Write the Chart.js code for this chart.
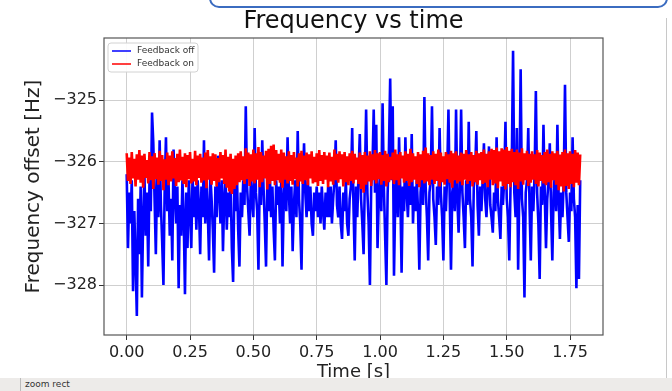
<!DOCTYPE html>
<html><head><meta charset="utf-8">
<script src="https://cdn.jsdelivr.net/npm/chart.js@4/dist/chart.umd.min.js"></script>
<style>
html,body{margin:0;padding:0;background:#fff;overflow:hidden;}
#wrap{position:relative;width:672px;height:391px;overflow:hidden;}
#c{position:absolute;left:0;top:0;}
#topbox{position:absolute;left:209px;top:-22px;width:455px;height:26px;border:2px solid #3b6cc0;border-radius:10px;}
#vline{position:absolute;left:666px;top:18px;width:1px;height:360px;background:#c8c8c8;}
#status{position:absolute;left:0;top:378px;width:672px;height:13px;background:#edebe9;}
#status span{position:absolute;left:25px;top:0px;font:9px "DejaVu Sans";color:#333;line-height:13px;}
#status i{position:absolute;left:20px;top:0;width:1px;height:13px;background:#bbb;}
</style></head>
<body>
<div id="wrap">
<canvas id="c" width="672" height="391"></canvas>
<div id="topbox"></div>
<div id="vline"></div>
<div id="status"><i></i><span>zoom rect</span></div>
</div>
<script>
// sample spacing of the recorded traces (s)
const sampleDt = 0.005;

// Feedback off (Hz)
const feedbackOff = [
-326.2,-327.4,-326.5,-327.0,-326.3,-328.1,-326.8,-327.6,-328.5,-326.6,
-327.5,-326.4,-328.2,-326.9,-326.2,-327.2,-326.5,-327.7,-326.3,-326.8,
-325.2,-325.7,-326.6,-327.5,-326.2,-326.9,-325.65,-326.7,-327.3,-328.0,
-326.4,-325.6,-326.8,-326.3,-327.2,-326.6,-327.6,-325.8,-326.5,-327.0,
-326.4,-328.05,-326.7,-327.2,-326.3,-326.9,-328.15,-326.5,-327.4,-326.3,
-326.8,-327.4,-326.2,-326.9,-326.4,-327.1,-326.3,-326.7,-327.5,-326.4,
-326.9,-325.65,-327.0,-326.3,-326.8,-327.6,-326.2,-326.6,-327.1,-327.8,
-326.4,-326.9,-325.9,-326.5,-327.0,-326.3,-327.45,-326.6,-326.2,-327.1,
-326.5,-326.9,-326.3,-327.4,-327.95,-326.4,-326.8,-326.2,-327.1,-327.7,
-326.5,-326.9,-326.3,-326.7,-325.1,-326.4,-326.8,-327.2,-326.3,-326.6,
-326.9,-325.45,-326.5,-326.8,-327.75,-326.3,-326.7,-325.65,-326.4,-327.0,
-327.7,-326.3,-326.8,-326.2,-326.9,-326.4,-327.1,-327.6,-326.3,-326.7,
-326.4,-327.0,-326.3,-327.7,-326.6,-326.2,-326.8,-325.6,-326.5,-327.0,
-326.4,-327.45,-326.7,-326.3,-326.9,-325.5,-326.6,-327.0,-327.75,-326.4,
-325.7,-326.5,-326.9,-326.3,-326.8,-326.4,-327.0,-327.2,-326.5,-326.8,
-326.4,-326.9,-326.5,-327.0,-326.4,-326.8,-327.1,-326.5,-326.9,-326.4,
-326.9,-326.4,-327.0,-326.6,-326.3,-325.65,-326.7,-326.9,-326.4,-327.0,
-327.25,-326.5,-326.8,-326.3,-327.0,-327.2,-326.6,-326.4,-325.45,-326.7,
-327.6,-326.4,-326.9,-326.2,-325.55,-326.6,-327.0,-327.5,-326.3,-325.15,
-326.5,-327.0,-328.0,-326.4,-326.1,-325.15,-326.5,-325.4,-327.4,-326.6,
-326.2,-326.8,-325.05,-326.4,-327.2,-328.0,-326.5,-325.8,-324.65,-326.3,
-325.1,-327.85,-326.6,-326.2,-326.9,-325.6,-326.5,-327.8,-326.4,-326.8,
-325.6,-326.5,-326.9,-326.3,-326.7,-325.55,-327.0,-326.4,-326.8,-326.3,
-326.8,-327.75,-326.5,-326.2,-326.7,-324.95,-326.4,-326.9,-327.6,-326.5,
-326.3,-325.1,-326.6,-326.9,-327.35,-326.4,-326.7,-325.45,-326.5,-326.9,
-327.6,-326.4,-326.8,-326.2,-325.15,-326.6,-327.75,-326.5,-326.3,-326.8,
-325.15,-326.6,-327.15,-326.4,-325.15,-326.5,-326.9,-327.4,-326.3,-326.7,
-325.35,-326.6,-326.9,-327.7,-326.4,-326.2,-325.5,-326.7,-327.2,-326.4,
-326.8,-326.3,-325.7,-326.6,-326.9,-326.4,-325.75,-326.7,-326.9,-327.15,
-326.5,-326.8,-325.6,-326.6,-326.9,-327.25,-326.4,-326.7,-326.3,-325.35,
-326.6,-326.9,-327.6,-326.4,-326.0,-324.2,-326.5,-326.9,-325.45,-327.75,
-326.4,-324.5,-326.6,-326.9,-328.2,-326.5,-326.3,-325.45,-326.7,-327.6,
-326.4,-326.8,-326.2,-324.85,-326.5,-327.0,-327.9,-326.4,-326.7,-325.4,
-326.5,-327.4,-326.6,-326.3,-325.7,-326.8,-327.6,-326.5,-326.2,-326.8,
-325.4,-326.6,-327.25,-326.5,-326.9,-326.3,-324.75,-326.5,-326.9,-327.3,
-326.5,-326.8,-325.6,-326.6,-326.9,-328.05,-326.7,-327.9,-326.3
];

// Feedback on (Hz)
const feedbackOn = [
-325.86,-326.31,-325.93,-326.36,-325.84,-326.27,-325.95,-326.40,-325.88,-326.29,
-325.81,-326.34,-325.90,-326.42,-325.87,-326.26,-325.97,-326.35,-325.84,-326.30,
-325.91,-326.44,-325.86,-326.28,-325.93,-326.37,-325.82,-326.31,-325.89,-326.46,
-325.96,-326.29,-325.85,-326.38,-325.90,-326.32,-325.83,-326.27,-325.94,-326.39,
-325.87,-326.33,-325.80,-326.30,-325.92,-326.36,-325.86,-326.41,-325.89,-326.28,
-325.84,-326.35,-325.95,-326.32,-325.82,-326.38,-325.90,-326.26,-325.87,-326.34,
-325.93,-326.30,-325.85,-326.43,-325.81,-326.29,-325.91,-326.37,-325.86,-326.31,
-325.88,-326.40,-325.94,-326.33,-325.84,-326.27,-325.89,-326.36,-325.80,-326.42,
-325.92,-326.48,-325.87,-326.52,-325.95,-326.44,-325.90,-326.38,-325.86,-326.33,
-325.83,-326.30,-325.91,-326.36,-325.78,-326.28,-325.85,-326.39,-325.88,-326.32,
-325.80,-326.35,-325.86,-326.29,-325.76,-326.41,-325.84,-326.33,-325.90,-326.27,
-325.82,-326.45,-325.79,-326.36,-325.74,-326.31,-325.72,-326.38,-325.81,-326.30,
-325.87,-326.34,-325.80,-326.42,-325.85,-326.29,-325.91,-326.35,-325.83,-326.31,
-325.89,-326.37,-325.84,-326.28,-325.93,-326.40,-325.86,-326.32,-325.82,-326.36,
-325.90,-326.30,-325.85,-326.38,-325.88,-326.27,-325.83,-326.35,-325.92,-326.33,
-325.86,-326.39,-325.81,-326.31,-325.89,-326.36,-325.84,-326.29,-325.90,-326.41,
-325.85,-326.32,-325.92,-326.37,-325.80,-326.30,-325.87,-326.34,-325.83,-326.28,
-325.88,-326.40,-325.84,-326.33,-325.91,-326.38,-325.86,-326.31,-325.82,-326.35,
-325.87,-326.29,-325.93,-326.36,-325.85,-326.44,-325.89,-326.50,-325.84,-326.37,
-325.90,-326.32,-325.83,-326.39,-325.88,-326.30,-325.81,-326.35,-325.86,-326.28,
-325.84,-326.37,-325.89,-326.31,-325.82,-326.40,-325.87,-326.33,-325.92,-326.29,
-325.85,-326.36,-325.80,-326.30,-325.88,-326.38,-325.84,-326.27,-325.90,-326.34,
-325.83,-326.31,-325.87,-326.39,-325.79,-326.33,-325.86,-326.29,-325.91,-326.36,
-325.84,-326.41,-325.88,-326.30,-325.82,-326.35,-325.77,-326.32,-325.86,-326.38,
-325.89,-326.29,-325.83,-326.36,-325.87,-326.31,-325.80,-326.40,-325.85,-326.33,
-325.91,-326.37,-325.84,-326.28,-325.88,-326.34,-325.82,-326.42,-325.86,-326.30,
-325.83,-326.35,-325.90,-326.32,-325.85,-326.38,-325.87,-326.29,-325.81,-326.36,
-325.88,-326.31,-325.84,-326.40,-325.89,-326.33,-325.82,-326.37,-325.86,-326.30,
-325.84,-326.36,-325.80,-326.34,-325.87,-326.41,-325.83,-326.29,-325.79,-326.38,
-325.81,-326.35,-325.77,-326.43,-325.83,-326.32,-325.78,-326.39,-325.80,-326.45,
-325.76,-326.36,-325.82,-326.41,-325.79,-326.33,-325.84,-326.38,-325.80,-326.44,
-325.85,-326.32,-325.78,-326.37,-325.86,-326.30,-325.82,-326.39,-325.87,-326.34,
-325.83,-326.29,-325.88,-326.36,-325.81,-326.40,-325.85,-326.31,-325.89,-326.35,
-325.84,-326.38,-325.80,-326.33,-325.87,-326.42,-325.83,-326.30,-325.86,-326.37,
-325.82,-326.46,-325.88,-326.40,-325.84,-326.48,-325.80,-326.39,-325.86,-326.44,
-325.83,-326.36,-325.87,-326.41,-325.81,-326.34,-325.85,-326.38,-325.88
];

const xTicks = [0, 0.25, 0.5, 0.75, 1.0, 1.25, 1.5, 1.75];
const xTickLabels = ['0.00','0.25','0.50','0.75','1.00','1.25','1.50','1.75'];
const yTicks = [-328, -327, -326, -325];
const yTickLabels = ['\u2212328','\u2212327','\u2212326','\u2212325'];

const seriesNames = ['Feedback off', 'Feedback on'];
const seriesColors = ['#0000ff', '#ff0000'];
const chartTitle = 'Frequency vs time';

const toPts = (arr, dt) => arr.map((v, i) => ({x: +(i * dt).toFixed(4), y: v}));

const frame = {
  id: 'frame',
  afterDatasetsDraw(chart) {
    const {ctx, chartArea: a} = chart;
    ctx.save();
    ctx.strokeStyle = '#555';
    ctx.lineWidth = 1.2;
    ctx.strokeRect(a.left, a.top, a.right - a.left, a.bottom - a.top);
    ctx.restore();
  }
};

const axesTitle = {
  id: 'axesTitle',
  afterDraw(chart) {
    const {ctx, chartArea: a} = chart;
    ctx.save();
    ctx.font = '24px "DejaVu Sans"';
    ctx.fillStyle = '#111';
    ctx.textAlign = 'center';
    ctx.textBaseline = 'middle';
    ctx.fillText(chartTitle, (a.left + a.right) / 2, 22);
    ctx.restore();
  }
};

const boxLegend = {
  id: 'boxLegend',
  afterDraw(chart) {
    const {ctx, chartArea: a} = chart;
    const x0 = a.left + 4, y0 = a.top + 5, w = 90, h = 29;
    ctx.save();
    ctx.fillStyle = 'rgba(255,255,255,0.9)';
    ctx.strokeStyle = '#d2d2d2';
    ctx.lineWidth = 1;
    ctx.beginPath();
    ctx.roundRect(x0, y0, w, h, 3);
    ctx.fill();
    ctx.stroke();
    ctx.font = '9px "DejaVu Sans"';
    ctx.textBaseline = 'middle';
    ctx.textAlign = 'left';
    seriesNames.forEach((name, i) => {
      const yy = y0 + 8 + i * 13;
      ctx.strokeStyle = seriesColors[i];
      ctx.lineWidth = 1.5;
      ctx.beginPath();
      ctx.moveTo(x0 + 4, yy);
      ctx.lineTo(x0 + 23, yy);
      ctx.stroke();
      ctx.fillStyle = '#333';
      ctx.fillText(name, x0 + 29, yy);
    });
    ctx.restore();
  }
};

new Chart(document.getElementById('c'), {
  type: 'line',
  data: {
    datasets: [
      {label: seriesNames[0], data: toPts(feedbackOff, sampleDt), borderColor: seriesColors[0], borderWidth: 2.6, pointRadius: 0, tension: 0, order: 1},
      {label: seriesNames[1], data: toPts(feedbackOn, sampleDt), borderColor: seriesColors[1], borderWidth: 2.6, pointRadius: 0, tension: 0, order: 0}
    ]
  },
  options: {
    responsive: false,
    animation: false,
    devicePixelRatio: 1,
    layout: {padding: {left: 0, right: 69, top: 38, bottom: 0}},
    plugins: {
      legend: {display: false},
      tooltip: {enabled: false},
      title: {display: false}
    },
    scales: {
      x: {
        type: 'linear', min: -0.0896, max: 1.880,
        afterBuildTicks: s => { s.ticks = xTicks.map(v => ({value: v})); },
        afterFit: s => { s.height = 56; },
        ticks: {callback: v => xTickLabels[xTicks.indexOf(v)], color: '#222',
          font: {family: 'DejaVu Sans', size: 16}, padding: 3, maxRotation: 0, autoSkip: false},
        grid: {color: '#cfcfcf', tickColor: '#333', tickLength: 5, lineWidth: 1},
        border: {display: false},
        title: {display: true, text: 'Time [s]', color: '#222',
          font: {family: 'DejaVu Sans', size: 18}, padding: {top: 0, bottom: 8}}
      },
      y: {
        type: 'linear', min: -328.81, max: -323.991,
        afterBuildTicks: s => { s.ticks = yTicks.map(v => ({value: v})); },
        afterFit: s => { s.width = 104; },
        ticks: {callback: v => yTickLabels[yTicks.indexOf(v)], color: '#222',
          font: {family: 'DejaVu Sans', size: 16}, padding: 2, autoSkip: false},
        grid: {color: '#cfcfcf', tickColor: '#333', tickLength: 5, lineWidth: 1},
        border: {display: false},
        title: {display: true, text: 'Frequency offset [Hz]', color: '#222',
          font: {family: 'DejaVu Sans', size: 20}, padding: {top: 22, bottom: 0}}
      }
    }
  },
  plugins: [frame, axesTitle, boxLegend]
});
</script>
</body></html>
